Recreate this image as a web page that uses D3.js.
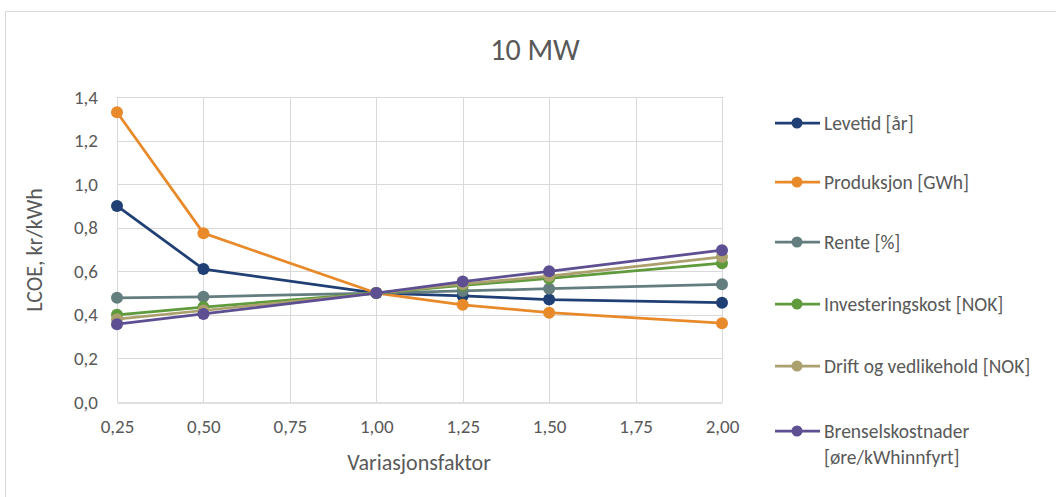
<!DOCTYPE html>
<html>
<head>
<meta charset="utf-8">
<script src="https://cdn.jsdelivr.net/npm/d3@7"></script>
<style>
  body { margin: 0; background: #fff; }
  text { font-family: Carlito, Lato, sans-serif; fill: #595959; }
</style>
</head>
<body>
<div id="chart"></div>
<script>
// data
const factors = [0.25, 0.50, 1.00, 1.25, 1.50, 2.00];
const levetid = [0.90, 0.61, 0.50, 0.487, 0.47, 0.456];
const produksjon = [1.33, 0.775, 0.50, 0.446, 0.41, 0.362];
const rente = [0.478, 0.483, 0.50, 0.51, 0.52, 0.54];
const investering = [0.40, 0.436, 0.50, 0.535, 0.567, 0.637];
const drift = [0.38, 0.42, 0.50, 0.542, 0.578, 0.666];
const brensel = [0.357, 0.404, 0.50, 0.553, 0.60, 0.697];
const seriesNames = ["Levetid [år]", "Produksjon [GWh]", "Rente [%]", "Investeringskost [NOK]",
  "Drift og vedlikehold [NOK]", "Brenselskostnader [øre/kWhinnfyrt]"];
const seriesColors = ["#203f74", "#e8892a", "#647d7e", "#5f9a3c", "#aba06e", "#5d4f92"];
const xTicks = [0.25, 0.5, 0.75, 1.0, 1.25, 1.5, 1.75, 2.0];
const yTicks = [0, 0.2, 0.4, 0.6, 0.8, 1.0, 1.2, 1.4];

const allSeries = [levetid, produksjon, rente, investering, drift, brensel];

const width = 1056, height = 497;
const svg = d3.select("#chart").append("svg")
  .attr("width", width).attr("height", height);

// chart frame
svg.append("rect")
  .attr("x", 5.5).attr("y", 11.5)
  .attr("width", 1070).attr("height", 500)
  .attr("fill", "none").attr("stroke", "#d9d9d9");

const x = d3.scaleLinear().domain([0.25, 2.0]).range([117, 722]);
const y = d3.scaleLinear().domain([0, 1.4]).range([402, 97]);

// gridlines
svg.append("g").selectAll("line")
  .data(yTicks.filter(d => d > 0))
  .join("line")
  .attr("x1", x(0.25)).attr("x2", x(2.0))
  .attr("y1", d => Math.round(y(d)) + 0.5).attr("y2", d => Math.round(y(d)) + 0.5)
  .attr("stroke", "#d9d9d9");

svg.append("g").selectAll("line")
  .data(xTicks)
  .join("line")
  .attr("x1", d => Math.round(x(d)) + 0.5).attr("x2", d => Math.round(x(d)) + 0.5)
  .attr("y1", y(0)).attr("y2", y(1.4))
  .attr("stroke", "#d9d9d9");

// x axis
const xAxis = svg.append("g")
  .attr("transform", `translate(0,${Math.round(y(0)) + 0.5})`)
  .call(d3.axisBottom(x).tickValues(xTicks).tickSize(0).tickPadding(17)
    .tickFormat(d => d3.format(".2f")(d).replace(".", ",")));
xAxis.select(".domain").attr("stroke", "#bfbfbf");
xAxis.selectAll("text").style("font-size", "19px").attr("fill", "#595959");

// y axis
const yAxis = svg.append("g")
  .attr("transform", `translate(${x(0.25)},0)`)
  .call(d3.axisLeft(y).tickValues(yTicks).tickSize(0).tickPadding(19)
    .tickFormat(d => d3.format(".1f")(d).replace(".", ",")));
yAxis.select(".domain").remove();
yAxis.selectAll("text").style("font-size", "19px").attr("fill", "#595959");

// titles
svg.append("text")
  .attr("x", 535).attr("y", 60)
  .attr("text-anchor", "middle")
  .style("font-size", "30px")
  .text("10 MW");

svg.append("text")
  .attr("x", 419).attr("y", 470)
  .attr("text-anchor", "middle")
  .style("font-size", "22px")
  .text("Variasjonsfaktor");

svg.append("text")
  .attr("transform", "translate(42,250) rotate(-90)")
  .attr("text-anchor", "middle")
  .style("font-size", "22px")
  .text("LCOE, kr/kWh");

// lines and markers
const line = d3.line()
  .x((d, i) => x(factors[i]))
  .y(d => y(d));

allSeries.forEach((values, s) => {
  const g = svg.append("g");
  g.append("path")
    .datum(values)
    .attr("d", line)
    .attr("fill", "none")
    .attr("stroke", seriesColors[s])
    .attr("stroke-width", 2.75)
    .attr("stroke-linejoin", "round");
  g.selectAll("circle")
    .data(values)
    .join("circle")
    .attr("cx", (d, i) => x(factors[i]))
    .attr("cy", d => y(d))
    .attr("r", 6)
    .attr("fill", seriesColors[s]);
});

// legend
const legendY = [123, 182, 242, 304, 366, 431];
const legend = svg.append("g");
seriesNames.forEach((name, s) => {
  const row = legend.append("g").attr("transform", `translate(0,${legendY[s]})`);
  row.append("line")
    .attr("x1", 775).attr("x2", 820)
    .attr("stroke", seriesColors[s]).attr("stroke-width", 2.75);
  row.append("circle")
    .attr("cx", 797).attr("cy", 0).attr("r", 5.5)
    .attr("fill", seriesColors[s]);
  const words = s === 5 ? ["Brenselskostnader", "[øre/kWhinnfyrt]"] : [name];
  words.forEach((w, k) => {
    row.append("text")
      .attr("x", 824).attr("y", k * 26)
      .attr("dy", "0.35em")
      .style("font-size", "19.5px")
      .text(w);
  });
});
</script>
</body>
</html>
